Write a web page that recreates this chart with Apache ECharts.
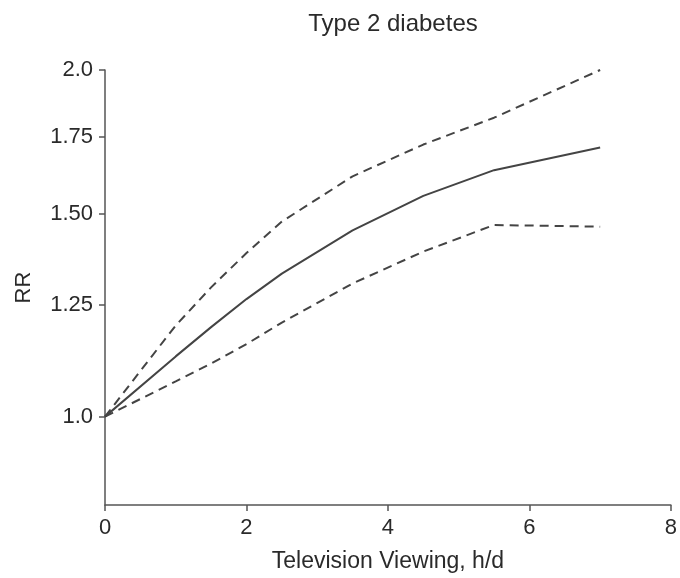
<!DOCTYPE html>
<html>
<head>
<meta charset="utf-8">
<script src="https://cdn.jsdelivr.net/npm/echarts@6/dist/echarts.min.js"></script>
<style>html,body{margin:0;padding:0;background:#fff;}#c{width:680px;height:578px;}</style>
</head>
<body>
<div id="c"></div>
<script>
var titleText = 'Type 2 diabetes';
var xName = 'Television Viewing, h/d';
var yName = 'RR';
var hours = [0, 1, 1.5, 2, 2.5, 3.5, 4.5, 5.5, 7];
var rr = [1.0, 1.128, 1.196, 1.265, 1.331, 1.451, 1.555, 1.637, 1.713];
var upperCI = [1.0, 1.20, 1.295, 1.387, 1.477, 1.617, 1.723, 1.818, 2.0];
var lowerCI = [1.0, 1.073, 1.112, 1.156, 1.207, 1.305, 1.391, 1.467, 1.462];
var yTickValues = [1.0, 1.25, 1.5, 1.75, 2.0];
var yTickLabels = ['1.0', '1.25', '1.50', '1.75', '2.0'];
var yMin = 0.838, yMax = 2.0;

function pts(vals) {
  return hours.map(function (h, i) { return [h, Math.log(vals[i])]; });
}
var logTicks = yTickValues.map(function (v) { return Math.log(v); });
var font = 'Liberation Sans, Arial, sans-serif';
var textColor = '#2a2a2a';
var lineColor = '#444';

var chart = echarts.init(document.getElementById('c'), null, {renderer: 'canvas'});
chart.setOption({
  animation: false,
  title: {
    text: titleText, left: 388, top: 7, textAlign: 'center',
    textStyle: {fontFamily: font, fontSize: 24, fontWeight: 'normal', color: textColor}
  },
  grid: {left: 105, right: 8, top: 70, bottom: 70, containLabel: false},
  xAxis: {
    type: 'value', min: 0, max: 8, interval: 2,
    name: xName, nameLocation: 'middle', nameGap: 45,
    nameTextStyle: {fontFamily: font, fontSize: 23, color: textColor},
    axisLine: {show: true, onZero: false, lineStyle: {color: '#555', width: 1.5}},
    axisTick: {show: true, length: 6, lineStyle: {color: '#555', width: 1.5}},
    axisLabel: {fontFamily: font, fontSize: 22, color: textColor, margin: 12},
    splitLine: {show: false}
  },
  yAxis: {
    type: 'value', min: Math.log(yMin), max: Math.log(yMax),
    name: yName, nameLocation: 'middle', nameGap: 70, nameRotate: 90,
    nameTextStyle: {fontFamily: font, fontSize: 22, color: textColor},
    axisLine: {show: true, onZero: false, lineStyle: {color: '#555', width: 1.5}},
    axisTick: {show: true, length: 6, customValues: logTicks, lineStyle: {color: '#555', width: 1.5}},
    axisLabel: {
      fontFamily: font, fontSize: 22, color: textColor, margin: 12,
      customValues: logTicks,
      formatter: function (v) {
        var best = 0, d = Infinity;
        for (var i = 0; i < logTicks.length; i++) {
          var dd = Math.abs(logTicks[i] - v);
          if (dd < d) { d = dd; best = i; }
        }
        return yTickLabels[best];
      }
    },
    splitLine: {show: false}
  },
  series: [
    {type: 'line', data: pts(rr), symbol: 'none', lineStyle: {color: lineColor, width: 2}},
    {type: 'line', data: pts(upperCI), symbol: 'none', lineStyle: {color: lineColor, width: 2, type: [9, 6]}},
    {type: 'line', data: pts(lowerCI), symbol: 'none', lineStyle: {color: lineColor, width: 2, type: [9, 6]}}
  ]
});
</script>
</body>
</html>
